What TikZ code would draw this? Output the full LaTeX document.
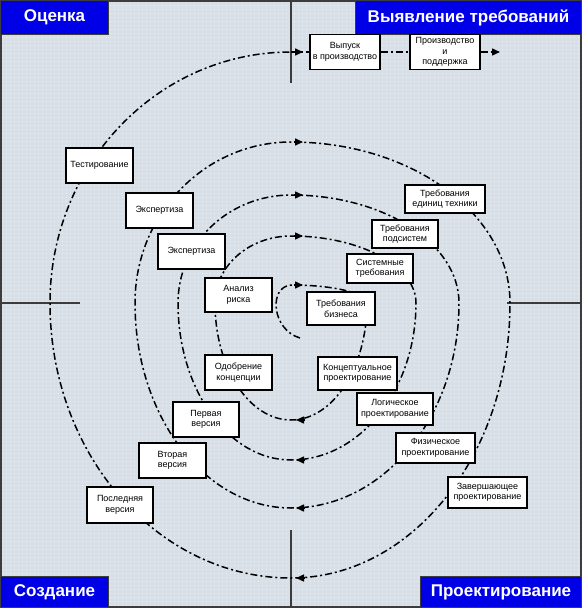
\documentclass[tikz,border=0pt]{standalone}
\usepackage{fontspec}
\setmainfont{Liberation Sans}
\usetikzlibrary{arrows.meta,patterns.meta}
\definecolor{bgfill}{RGB}{216,223,231}
\definecolor{hdrblue}{RGB}{0,0,230}
\definecolor{framegray}{RGB}{60,60,60}

\begin{document}
\begin{tikzpicture}[x=1pt,y=-1pt,
  stage/.style={draw=black,line width=1.3pt,fill=white,align=center,inner sep=1pt,
    font=\fontsize{9}{10.5}\selectfont},
  corner/.style={fill=hdrblue,draw=framegray,line width=1pt,text=white,inner sep=0pt,
    font=\fontsize{17}{20}\selectfont\bfseries},
  spiral/.style={line width=1.5pt,dash pattern=on 7pt off 3pt on 2pt off 3pt},
  tip/.style={-{Triangle[length=8pt,width=7pt]},line width=1.5pt}]

  % background and frame
  \useasboundingbox (0,0) rectangle (582,608);
  \fill[bgfill] (0,0) rectangle (582,608);
  \fill[pattern={Dots[distance=4pt,radius=0.45pt]},pattern color=white] (0,0) rectangle (582,608);
  \draw[framegray,line width=2pt] (1,1) rectangle (581,607);

  % axes
  \draw[framegray,line width=1.5pt] (291,0) -- (291,83);
  \draw[framegray,line width=1.5pt] (291,530) -- (291,608);
  \draw[framegray,line width=1.5pt] (0,303) -- (80,303);
  \draw[framegray,line width=1.5pt] (507,303) -- (582,303);

  % spiral, centre (291,303)
  \coordinate (top4) at (291,52);
  \draw[spiral] (300,338) .. controls (272,330) and (268,287) .. (291,285)
    arc[start angle=-90,end angle=0,x radius=76,y radius=18]
    arc[start angle=0,end angle=90,x radius=76,y radius=117]
    arc[start angle=90,end angle=180,x radius=76,y radius=117]
    arc[start angle=180,end angle=270,x radius=76,y radius=67]
    arc[start angle=-90,end angle=0,x radius=125,y radius=67]
    arc[start angle=0,end angle=90,x radius=125,y radius=157]
    arc[start angle=90,end angle=180,x radius=113,y radius=157]
    arc[start angle=180,end angle=270,x radius=113,y radius=108]
    arc[start angle=-90,end angle=0,x radius=168,y radius=108]
    arc[start angle=0,end angle=90,x radius=168,y radius=205]
    arc[start angle=90,end angle=180,x radius=156,y radius=205]
    arc[start angle=180,end angle=270,x radius=156,y radius=161]
    arc[start angle=-90,end angle=0,x radius=219,y radius=161]
    arc[start angle=0,end angle=90,x radius=219,y radius=275]
    arc[start angle=90,end angle=180,x radius=241,y radius=275]
    arc[start angle=180,end angle=270,x radius=241,y radius=251];

  % quarter labels
  \node[corner,anchor=north west,minimum width=108pt,minimum height=34pt] (ocenka) at (0,0) {Оценка};
  \node[corner,anchor=north east,minimum width=226pt,minimum height=34pt] (vyjavl) at (582,0) {Выявление требований};
  \node[corner,anchor=south west,minimum width=108pt,minimum height=31pt] (sozd) at (0,608) {Создание};
  \node[corner,anchor=south east,minimum width=161pt,minimum height=31pt] (proekt) at (582,608) {Проектирование};

  % stages
  \node[stage,minimum width=70pt,minimum height=35pt] (vyp) at (345,52) {Выпуск\\в производство};
  \node[stage,minimum width=70pt,minimum height=35pt] (proizv) at (445,52) {Производство\\и\\поддержка};
  \node[stage,minimum width=67pt,minimum height=35pt] (test) at (99.5,165.5) {Тестирование};
  \node[stage,minimum width=67pt,minimum height=35pt] (eksp1) at (159.5,210.5) {Экспертиза};
  \node[stage,minimum width=67pt,minimum height=35pt] (eksp2) at (191.5,251.5) {Экспертиза};
  \node[stage,minimum width=67pt,minimum height=34pt] (analiz) at (238.5,295) {Анализ\\риска};
  \node[stage,minimum width=68pt,minimum height=33pt] (trbiz) at (341,308.5) {Требования\\бизнеса};
  \node[stage,minimum width=67pt,minimum height=35pt] (odobr) at (238.5,372.5) {Одобрение\\концепции};
  \node[stage,minimum width=79pt,minimum height=33pt] (konc) at (357.5,373.5) {Концептуальное\\проектирование};
  \node[stage,minimum width=80pt,minimum height=28pt] (trted) at (445,199) {Требования\\единиц техники};
  \node[stage,minimum width=66pt,minimum height=28pt] (trpod) at (405,234) {Требования\\подсистем};
  \node[stage,minimum width=66pt,minimum height=29pt] (sist) at (380,268.5) {Системные\\требования};
  \node[stage,minimum width=66pt,minimum height=35pt] (perv) at (206,419.5) {Первая\\версия};
  \node[stage,minimum width=67pt,minimum height=35pt] (vtor) at (172.5,460.5) {Вторая\\версия};
  \node[stage,minimum width=66pt,minimum height=36pt] (posl) at (120,505) {Последняя\\версия};
  \node[stage,minimum width=76pt,minimum height=32pt] (logich) at (395,409) {Логическое\\проектирование};
  \node[stage,minimum width=79pt,minimum height=30pt] (fiz) at (435.5,448) {Физическое\\проектирование};
  \node[stage,minimum width=79pt,minimum height=31pt] (zaversh) at (487.5,492.5) {Завершающее\\проектирование};

  % exit to production
  \coordinate (out) at (500,52);
  \draw[spiral] (top4) -- (vyp);
  \draw[spiral] (vyp) -- (proizv);
  \draw[spiral,tip] (proizv) -- (out);

  % direction marks
  \foreach \y in {52,142,195,236,285}
    \draw[tip] (294,\y) -- (303,\y);
  \foreach \y in {420,460,508,578}
    \draw[tip] (305,\y) -- (296,\y);
\end{tikzpicture}
\end{document}
